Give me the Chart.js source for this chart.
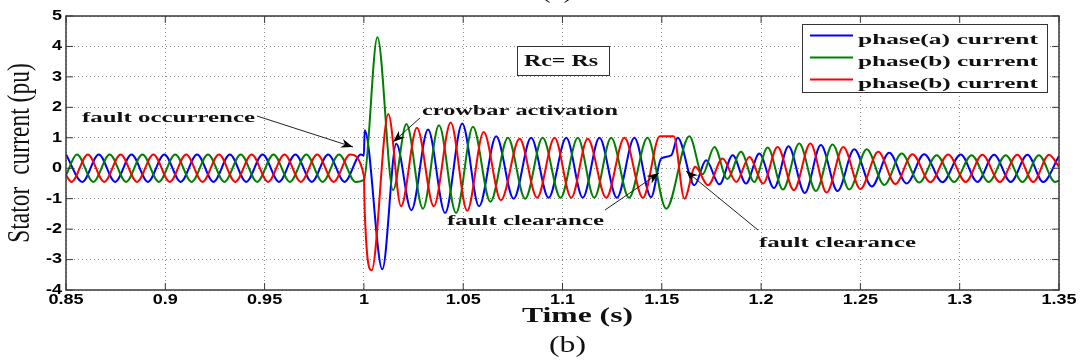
<!DOCTYPE html>
<html>
<head>
<meta charset="utf-8">
<script src="https://cdn.jsdelivr.net/npm/chart.js@4.4.1/dist/chart.umd.min.js"></script>
<style>
  html, body { margin: 0; padding: 0; background: #fff; }
</style>
</head>
<body>
<canvas id="chart" width="1084" height="362"></canvas>
<script>
// axis ticks
const xTicks = [0.85, 0.9, 0.95, 1, 1.05, 1.1, 1.15, 1.2, 1.25, 1.3, 1.35];
const yTicks = [-4, -3, -2, -1, 0, 1, 2, 3, 4, 5];

const seriesNames = ['phase(a) current', 'phase(b) current', 'phase(b) current'];

// phase (a) - turning points (time in s, current in pu)
const blueT = [0.8500, 0.85825, 0.8665, 0.87475, 0.8830, 0.89125, 0.8995, 0.90775, 0.9160, 0.92425,
  0.9325, 0.94075, 0.9490, 0.95725, 0.9655, 0.97375, 0.9820, 0.99025, 0.9985,
  1.0000, 1.0004, 1.0093, 1.0163, 1.0239, 1.0323, 1.0409, 1.0495, 1.0580, 1.0666, 1.0754,
  1.0842, 1.0930, 1.1019, 1.1102, 1.1186, 1.1274, 1.1362, 1.1446, 1.1497, 1.1547, 1.1580,
  1.1664, 1.1723, 1.1790, 1.1857, 1.1924, 1.1991, 1.2065, 1.2138, 1.2220, 1.2301, 1.2385,
  1.2469, 1.2557, 1.2645, 1.2733, 1.2821, 1.2913, 1.3005, 1.3089, 1.3173, 1.3257, 1.3341,
  1.3420, 1.3500];
const blueV = [0.45, -0.45, 0.45, -0.45, 0.45, -0.45, 0.45, -0.45, 0.45, -0.45,
  0.45, -0.45, 0.45, -0.45, 0.45, -0.45, 0.45, -0.45, 0.45,
  0.42, 1.25, -3.32, 0.80, -1.38, 1.27, -1.47, 1.47, -1.25, 1.05, -1.00,
  1.00, -0.97, 1.00, -0.97, 1.00, -0.97, 1.00, -0.95, 0.32, 0.42, 1.00,
  -0.56, 0.26, -0.53, 0.43, -0.50, 0.48, -0.65, 0.72, -0.81, 0.76, -0.75,
  0.62, -0.60, 0.51, -0.50, 0.46, -0.46, 0.45, -0.45, 0.44, -0.45, 0.44,
  -0.45, 0.40];

// phase (b) - green
const greenT = [0.8500, 0.8555, 0.86375, 0.8720, 0.88025, 0.8885, 0.89675, 0.9050, 0.91325, 0.9215,
  0.92975, 0.9380, 0.94625, 0.9545, 0.96275, 0.9710, 0.97925, 0.9875, 0.99575,
  1.0000, 1.0068, 1.0147, 1.0214, 1.0297, 1.0378, 1.0464, 1.0549, 1.0637, 1.0725, 1.0812,
  1.0900, 1.0990, 1.1077, 1.1160, 1.1245, 1.1335, 1.1428, 1.1522, 1.1639, 1.1705, 1.1765,
  1.1830, 1.1899, 1.1965, 1.2033, 1.2110, 1.2192, 1.2276, 1.2360, 1.2444, 1.2532, 1.2620,
  1.2708, 1.2796, 1.2884, 1.2972, 1.3060, 1.3146, 1.3232, 1.3316, 1.3399, 1.3480, 1.3500];
const greenV = [-0.23, 0.45, -0.45, 0.45, -0.45, 0.45, -0.45, 0.45, -0.45, 0.45,
  -0.45, 0.45, -0.45, 0.45, -0.45, 0.45, -0.45, 0.45, -0.45,
  -0.38, 4.30, -0.72, 1.45, -1.33, 1.41, -1.47, 1.36, -1.10, 1.00, -1.00,
  1.00, -0.97, 1.00, -0.97, 1.00, -0.97, 1.00, -1.33, 1.05, -0.20, 0.70,
  -0.35, 0.54, -0.45, 0.68, -0.70, 0.81, -0.75, 0.78, -0.70, 0.62, -0.55,
  0.48, -0.47, 0.43, -0.45, 0.43, -0.45, 0.43, -0.45, 0.43, -0.45, -0.40];

// phase (c) - red (labelled "phase(b)" in the original legend)
const redT = [0.8500, 0.85275, 0.8610, 0.86925, 0.8775, 0.88575, 0.8940, 0.90225, 0.9105, 0.91875,
  0.9270, 0.93525, 0.9435, 0.95175, 0.9600, 0.96825, 0.9765, 0.98475, 0.9930,
  1.0000, 1.0004, 1.0039, 1.0123, 1.0187, 1.0267, 1.0352, 1.0437, 1.0520, 1.0603, 1.0690,
  1.0784, 1.0872, 1.0960, 1.1044, 1.1127, 1.1220, 1.1312, 1.1405, 1.1490, 1.1560, 1.1614,
  1.1668, 1.1733, 1.1806, 1.1875, 1.1941, 1.2010, 1.2083, 1.2165, 1.2248, 1.2330, 1.2414,
  1.2500, 1.2590, 1.2676, 1.2762, 1.2852, 1.2942, 1.3030, 1.3114, 1.3202, 1.3290, 1.3370,
  1.3450, 1.3500];
const redV = [-0.23, -0.45, 0.45, -0.45, 0.45, -0.45, 0.45, -0.45, 0.45, -0.45,
  0.45, -0.45, 0.45, -0.45, 0.45, -0.45, 0.45, -0.45, 0.45,
  -0.25, -1.40, -3.35, 1.78, -1.25, 1.33, -1.25, 1.50, -1.40, 1.19, -1.05,
  0.97, -0.97, 1.00, -0.97, 0.97, -0.97, 1.00, -0.97, 1.05, 1.05, -1.00,
  0.05, -0.56, 0.32, -0.45, 0.37, -0.50, 0.70, -0.72, 0.81, -0.80, 0.70,
  -0.68, 0.54, -0.52, 0.46, -0.46, 0.45, -0.45, 0.44, -0.45, 0.44, -0.45,
  0.44, 0.05];

const colors = ['#0000ff', '#008000', '#ff0000'];

const pts = (T, V) => T.map((t, i) => ({ x: t, y: V[i] }));

// text squeezed/stretched to the width it has in the picture
function sText(ctx, txt, x, y, size, weight, w) {
  ctx.save();
  ctx.font = `${weight} ${size}px 'Liberation Serif', serif`;
  const nat = ctx.measureText(txt).width;
  ctx.translate(x, y);
  ctx.scale(w / nat, 1);
  ctx.textAlign = 'left';
  ctx.textBaseline = 'alphabetic';
  ctx.fillStyle = '#111';
  ctx.fillText(txt, 0, 0);
  ctx.restore();
}

// tick label, widened like the original figure
function tickText(ctx, txt, x, y, align) {
  const sx = 1.29;
  ctx.save();
  ctx.font = "bold 14px 'Liberation Sans', Arial, sans-serif";
  const w = ctx.measureText(txt).width * sx;
  const x0 = align === 'right' ? x - w : x - w / 2;
  ctx.translate(x0, y);
  ctx.scale(sx, 1);
  ctx.textAlign = 'left';
  ctx.textBaseline = 'middle';
  ctx.fillStyle = '#000';
  ctx.fillText(txt, 0, 0);
  ctx.restore();
}

function arrow(ctx, x1, y1, x2, y2) {
  ctx.save();
  ctx.strokeStyle = '#222';
  ctx.fillStyle = '#000';
  ctx.lineWidth = 1;
  ctx.beginPath();
  ctx.moveTo(x1, y1);
  ctx.lineTo(x2, y2);
  ctx.stroke();
  const a = Math.atan2(y2 - y1, x2 - x1);
  const L = 12, W = 4.5;
  ctx.translate(x2, y2);
  ctx.rotate(a);
  ctx.beginPath();
  ctx.moveTo(0, 0);
  ctx.lineTo(-L, -W);
  ctx.lineTo(-L * 0.7, 0);
  ctx.lineTo(-L, W);
  ctx.closePath();
  ctx.fill();
  ctx.restore();
}

const overlay = {
  id: 'overlay',
  beforeDraw(chart) {
    const ctx = chart.ctx;
    ctx.save();
    ctx.fillStyle = '#fff';
    ctx.fillRect(0, 0, chart.width, chart.height);
    ctx.restore();
  },
  afterDraw(chart) {
    const ctx = chart.ctx;
    const { left, right, top, bottom } = chart.chartArea;
    const xs = chart.scales.x, ys = chart.scales.y;

    // axes box + inward ticks (matlab style)
    ctx.save();
    ctx.strokeStyle = '#3a3a3a';
    ctx.lineWidth = 1.5;
    ctx.strokeRect(left, top, right - left, bottom - top);
    ctx.lineWidth = 1;
    ctx.beginPath();
    xTicks.forEach(v => {
      const p = xs.getPixelForValue(v);
      ctx.moveTo(p, bottom); ctx.lineTo(p, bottom - 7);
      ctx.moveTo(p, top); ctx.lineTo(p, top + 7);
    });
    yTicks.forEach(v => {
      const p = ys.getPixelForValue(v);
      ctx.moveTo(left, p); ctx.lineTo(left + 7, p);
      ctx.moveTo(right, p); ctx.lineTo(right - 7, p);
    });
    ctx.stroke();
    ctx.restore();

    // tick labels
    xTicks.forEach(v => tickText(ctx, String(Math.round(v * 100) / 100), xs.getPixelForValue(v), bottom + 10, 'center'));
    yTicks.forEach(v => tickText(ctx, String(v), left - 4, ys.getPixelForValue(v), 'right'));

    // annotations
    sText(ctx, 'fault occurrence', 82, 121.5, 15, 'bold', 173);
    arrow(ctx, 257, 116, 353, 147);
    sText(ctx, 'crowbar activation', 422, 115, 15, 'bold', 196);
    arrow(ctx, 420, 118, 393, 142);
    sText(ctx, 'fault clearance', 447, 224.5, 15, 'bold', 157);
    arrow(ctx, 605, 210, 659, 173);
    sText(ctx, 'fault clearance', 759, 246.5, 15, 'bold', 157);
    arrow(ctx, 758, 230, 686, 171);

    // Rc = Rs box
    ctx.save();
    ctx.fillStyle = '#fff';
    ctx.fillRect(517, 46, 92, 29);
    ctx.strokeStyle = '#333';
    ctx.lineWidth = 1;
    ctx.strokeRect(517.5, 46.5, 92, 29);
    ctx.restore();
    sText(ctx, 'Rc= Rs', 524, 66, 16, 'bold', 74);

    // legend
    ctx.save();
    ctx.fillStyle = '#fff';
    ctx.fillRect(802, 24, 245, 68);
    ctx.strokeStyle = '#333';
    ctx.lineWidth = 1;
    ctx.strokeRect(802.5, 24.5, 245, 68);
    ctx.lineWidth = 2;
    seriesNames.forEach((n, i) => {
      const y = 35.5 + i * 22;
      ctx.strokeStyle = colors[i];
      ctx.beginPath();
      ctx.moveTo(810, y); ctx.lineTo(853, y);
      ctx.stroke();
    });
    ctx.restore();
    seriesNames.forEach((n, i) => sText(ctx, n, 858, 43.5 + i * 22, 15, 'bold', 180));

    // axis titles and caption
    sText(ctx, 'Time (s)', 522, 321.5, 20, 'bold', 111);
    sText(ctx, '(b)', 549, 352, 24, 'normal', 37);
    sText(ctx, '(a)', 541, -2, 24, 'normal', 32);

    ctx.save();
    ctx.translate(29, 153);
    ctx.rotate(-Math.PI / 2);
    ctx.scale(1, 1.3);
    ctx.font = "23.5px 'Liberation Serif', serif";
    ctx.textAlign = 'center';
    ctx.textBaseline = 'alphabetic';
    ctx.fillStyle = '#111';
    ctx.fillText('Stator  current (pu)', 0, 0);
    ctx.restore();
  }
};

const lineSet = (label, T, V, color, order) => ({
  label,
  data: pts(T, V),
  borderColor: color,
  backgroundColor: color,
  borderWidth: 2,
  pointRadius: 0,
  fill: false,
  cubicInterpolationMode: 'monotone',
  order
});

new Chart(document.getElementById('chart'), {
  type: 'line',
  data: {
    datasets: [
      lineSet(seriesNames[0], blueT, blueV, colors[0], 3),
      lineSet(seriesNames[1], greenT, greenV, colors[1], 2),
      lineSet(seriesNames[2], redT, redV, colors[2], 1)
    ]
  },
  options: {
    responsive: false,
    devicePixelRatio: 1,
    animation: false,
    layout: { padding: { left: 0, right: 25, top: 16, bottom: 0 } },
    plugins: {
      legend: { display: false },
      tooltip: { enabled: false }
    },
    scales: {
      x: {
        type: 'linear',
        min: 0.85,
        max: 1.35,
        afterBuildTicks: s => { s.ticks = xTicks.map(v => ({ value: v })); },
        afterFit: s => { s.height = 72; },
        grid: { color: '#8a8a8a', lineWidth: 1, drawTicks: false },
        border: { display: false, dash: [1, 3] },
        ticks: { display: false }
      },
      y: {
        type: 'linear',
        min: -4,
        max: 5,
        afterBuildTicks: s => { s.ticks = yTicks.map(v => ({ value: v })); },
        afterFit: s => { s.width = 66; },
        grid: { color: '#8a8a8a', lineWidth: 1, drawTicks: false },
        border: { display: false, dash: [1, 3] },
        ticks: { display: false }
      }
    }
  },
  plugins: [overlay]
});
</script>
</body>
</html>
